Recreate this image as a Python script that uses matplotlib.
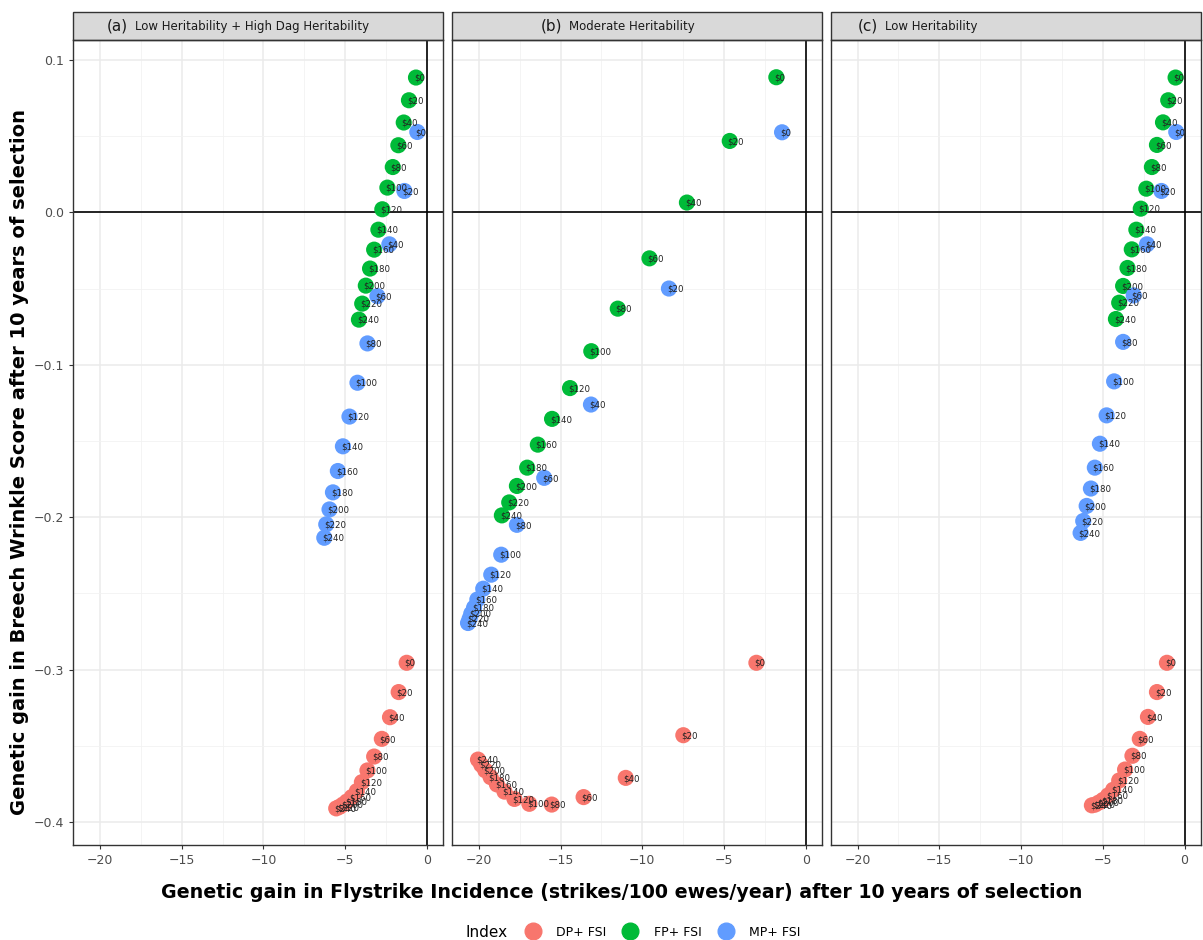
import matplotlib.pyplot as plt
from matplotlib.patches import Rectangle
from matplotlib.lines import Line2D
from matplotlib.ticker import MultipleLocator

# economic weight applied to flystrike (point labels)
costs = [0, 20, 40, 60, 80, 100, 120, 140, 160, 180, 200, 220, 240]

# (a) Low heritability + high dag heritability
a_dp_x = [-1.24, -1.73, -2.26, -2.76, -3.23, -3.64, -3.98, -4.29, -4.60, -4.90, -5.14, -5.35, -5.55]
a_dp_y = [-0.2955, -0.3147, -0.3312, -0.3454, -0.3570, -0.3661, -0.3738, -0.3797, -0.3836, -0.3865, -0.3885, -0.3900, -0.3910]
a_fp_x = [-0.67, -1.10, -1.42, -1.75, -2.09, -2.42, -2.73, -2.97, -3.23, -3.48, -3.74, -3.96, -4.16]
a_fp_y = [0.0884, 0.0735, 0.0589, 0.0440, 0.0297, 0.0162, 0.0020, -0.0114, -0.0245, -0.0369, -0.0481, -0.0599, -0.0704]
a_mp_x = [-0.59, -1.38, -2.30, -3.03, -3.64, -4.25, -4.74, -5.14, -5.45, -5.75, -5.96, -6.16, -6.28]
a_mp_y = [0.0527, 0.0140, -0.0210, -0.0550, -0.0860, -0.1118, -0.1340, -0.1535, -0.1697, -0.1837, -0.1949, -0.2047, -0.2135]

# (b) Moderate heritability
b_dp_x = [-3.02, -7.49, -11.01, -13.59, -15.54, -16.91, -17.82, -18.43, -18.89, -19.28, -19.61, -19.85, -20.05]
b_dp_y = [-0.2955, -0.3430, -0.3710, -0.3836, -0.3885, -0.3880, -0.3848, -0.3800, -0.3753, -0.3705, -0.3660, -0.3624, -0.3590]
b_fp_x = [-1.80, -4.65, -7.27, -9.56, -11.50, -13.12, -14.42, -15.52, -16.39, -17.04, -17.67, -18.14, -18.59]
b_fp_y = [0.0886, 0.0468, 0.0064, -0.0302, -0.0632, -0.0911, -0.1153, -0.1355, -0.1524, -0.1675, -0.1795, -0.1903, -0.1988]
b_mp_x = [-1.45, -8.37, -13.14, -16.00, -17.67, -18.63, -19.24, -19.73, -20.09, -20.29, -20.46, -20.56, -20.66]
b_mp_y = [0.0525, -0.0500, -0.1261, -0.1742, -0.2050, -0.2246, -0.2377, -0.2469, -0.2540, -0.2593, -0.2632, -0.2665, -0.2694]

# (c) Low heritability
c_dp_x = [-1.08, -1.69, -2.24, -2.74, -3.19, -3.64, -4.00, -4.37, -4.68, -4.98, -5.23, -5.47, -5.67]
c_dp_y = [-0.2955, -0.3147, -0.3310, -0.3454, -0.3565, -0.3655, -0.3727, -0.3788, -0.3825, -0.3854, -0.3871, -0.3885, -0.3890]
c_fp_x = [-0.55, -1.00, -1.32, -1.69, -2.00, -2.34, -2.68, -2.95, -3.23, -3.49, -3.76, -4.00, -4.20]
c_fp_y = [0.0884, 0.0735, 0.0590, 0.0442, 0.0297, 0.0155, 0.0024, -0.0114, -0.0243, -0.0365, -0.0483, -0.0593, -0.0700]
c_mp_x = [-0.51, -1.42, -2.30, -3.11, -3.76, -4.31, -4.77, -5.18, -5.49, -5.73, -5.99, -6.20, -6.36]
c_mp_y = [0.0527, 0.0140, -0.0210, -0.0545, -0.0850, -0.1109, -0.1332, -0.1518, -0.1675, -0.1812, -0.1926, -0.2025, -0.2103]

index_names = ["DP+ FSI", "FP+ FSI", "MP+ FSI"]
index_colors = ["#F8766D", "#00BA38", "#619CFF"]
panel_tags = ["(a)", "(b)", "(c)"]
panel_titles = ["Low Heritability + High Dag Heritability", "Moderate Heritability", "Low Heritability"]
panel_data = [
    [(a_dp_x, a_dp_y), (a_fp_x, a_fp_y), (a_mp_x, a_mp_y)],
    [(b_dp_x, b_dp_y), (b_fp_x, b_fp_y), (b_mp_x, b_mp_y)],
    [(c_dp_x, c_dp_y), (c_fp_x, c_fp_y), (c_mp_x, c_mp_y)],
]
strip_offsets = [0.092, 0.24, 0.073]

fig = plt.figure(figsize=(12.03, 9.40), dpi=100)
axes = fig.subplots(1, 3, sharey=True)
fig.subplots_adjust(left=0.0607, right=0.998, top=0.9574, bottom=0.1011, wspace=0.024)

for k, ax in enumerate(axes):
    ax.set_xlim(-21.65, 0.98)
    ax.set_ylim(-0.415, 0.113)
    ax.xaxis.set_major_locator(MultipleLocator(5))
    ax.xaxis.set_minor_locator(MultipleLocator(2.5))
    ax.yaxis.set_major_locator(MultipleLocator(0.1))
    ax.yaxis.set_minor_locator(MultipleLocator(0.05))
    ax.grid(which="major", color="#EBEBEB", lw=1.1)
    ax.grid(which="minor", color="#F2F2F2", lw=0.6)
    ax.set_axisbelow(True)
    ax.tick_params(which="minor", length=0)
    ax.tick_params(which="major", length=3, color="#333333", labelsize=9, labelcolor="#4D4D4D")
    if k > 0:
        ax.tick_params(axis="y", left=False)
    for s in ax.spines.values():
        s.set_color("#333333")
        s.set_linewidth(1.0)
    ax.axhline(0, color="black", lw=1.2, zorder=1)
    ax.axvline(0, color="black", lw=1.2, zorder=1)

    for (xs, ys), col in zip(panel_data[k], index_colors):
        ax.scatter(xs, ys, s=135, color=col, edgecolors="none", zorder=3)
        for x, y, c in zip(xs, ys, costs):
            ax.annotate("\\$" + str(c), (x, y), xytext=(-1.5, -0.5), textcoords="offset points",
                        ha="left", va="center", fontsize=6.2, color="#222222", zorder=4)

    # facet strip
    ax.add_patch(Rectangle((0, 1), 1, 28 / 805, transform=ax.transAxes, clip_on=False,
                           facecolor="#D9D9D9", edgecolor="#333333", lw=1.0))
    t = ax.text(strip_offsets[k], 1 + 14 / 805, panel_tags[k], transform=ax.transAxes,
                ha="left", va="center", fontsize=11, color="#1A1A1A")
    ax.annotate(panel_titles[k], xy=(1, 0.5), xycoords=t, xytext=(5, 0),
                textcoords="offset points", ha="left", va="center", fontsize=8.5, color="#1A1A1A")

fig.text(0.517, 0.05, "Genetic gain in Flystrike Incidence (strikes/100 ewes/year) after 10 years of selection",
         ha="center", va="center", fontsize=13.7, fontweight="bold")
fig.text(0.0166, 0.5085, "Genetic gain in Breech Wrinkle Score after 10 years of selection",
         ha="center", va="center", rotation=90, fontsize=14, fontweight="bold")

handles = [Line2D([], [], marker="o", ls="", ms=12, color=c) for c in index_colors]
fig.legend(handles, index_names, loc="center", bbox_to_anchor=(0.549, 0.0085), ncol=3,
           frameon=False, fontsize=9, handletextpad=0.9, columnspacing=0.9)
fig.text(0.387, 0.0085, "Index", ha="left", va="center", fontsize=11)

fig.savefig("out.png", dpi=100)
